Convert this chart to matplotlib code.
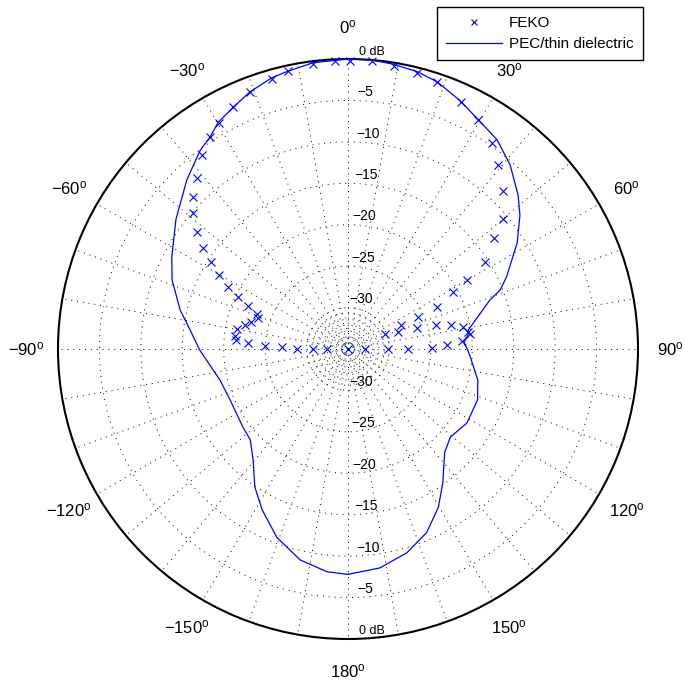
import numpy as np
import matplotlib
matplotlib.use("Agg")
import matplotlib.pyplot as plt
from matplotlib.transforms import offset_copy

plt.rcParams['font.family'] = ['Liberation Sans', 'DejaVu Sans']
plt.rcParams['mathtext.fontset'] = 'custom'
plt.rcParams['mathtext.rm'] = 'Liberation Sans'
plt.rcParams['mathtext.it'] = 'Liberation Sans:italic'

# pattern data, angle in degrees (clockwise from top), level in dB
pec_theta = [-180, -174.6, -167.2, -159.3, -151.9, -146, -139.4, -132.9, -126.6,
             -113.4, -103.6, -90.4, -83.1, -76.9, -68.6, -62.4, -53.0, -43.6,
             -36.6, -33.1, -29.9, -25.4, -20.9, -15.7, -12.2, -7.0, 0, 4.7, 9,
             14, 18.4, 24.2, 29.2, 35.5, 41.4, 47.8, 52.1, 57.9, 65.6, 68.8,
             71.0, 76.5, 81.0, 83.3, 87.0, 90, 93.8, 103.4, 111.4, 121.9, 130.8,
             137, 144.7, 150.3, 156.8, 163.9, 171.7, 180]
pec_db = [-7.8, -8.0, -8.9, -10.7, -13.0, -14.9, -17.4, -18.9, -19.2,
          -19.5, -19.1, -17.1, -15.8, -14.2, -12.2, -11.0, -9.0, -6.8,
          -5.1, -4.5, -3.5, -2.7, -1.8, -1.0, -0.7, -0.2, 0, 0, -0.2,
          -0.5, -1.0, -2.1, -3.1, -4.0, -5.4, -7.3, -8.7, -10.9, -14.0, -15.3,
          -16.9, -19.0, -20.3, -20.4, -21.0, -20.6, -20.2, -18.9, -18.2, -18.1, -18.7,
          -17.9, -15.2, -13.0, -10.9, -9.4, -8.3, -7.8]

feko_theta = [90, 90, 90, 89.3, 87.7, 86.0, 83.0, 81.9, 79.2, 76.9, 74.7, 73.1,
              71.2, 67.9, 65.6, 65.4, 64.7, 61.5, 59.9, 57.6, 52.8, 50.0, 44.5,
              39.2, 35.0, 29.6, 24.6, 18.4, 14.0, 9.2, 4.8, 0.4, -2.6, -7.0,
              -12.2, -15.7, -20.9, -25.4, -29.7, -33.1, -37.0, -41.4, -45.6,
              -48.7, -52.2, -55.1, -57.6, -60.2, -62.7, -64.7, -66.7, -69.0,
              -71.0, -74.4, -76.9, -79.8, -83.4, -85.4, -86.6, -87.9, -88.3,
              -90, -90, -90, 0]
feko_db = [-32.9, -30.2, -27.8, -24.9, -23.0, -21.2, -20.2, -20.4, -20.9, -22.2,
           -24.0, -26.3, -28.6, -30.2, -28.0, -25.7, -23.1, -20.6, -18.4, -15.4,
           -12.9, -10.6, -8.3, -6.3, -4.7, -3.2, -2.2, -1.0, -0.7, -0.4, -0.1,
           -0.2, -0.2, -0.4, -0.7, -1.1, -1.8, -2.7, -3.6, -4.5, -5.7, -7.5,
           -8.8, -10.1, -12.0, -13.7, -15.4, -17.1, -18.7, -20.3, -21.9, -23.2,
           -23.5, -22.8, -22.2, -21.4, -21.3, -21.4, -22.9, -25.0, -27.0, -28.8,
           -30.8, -32.5, -35]

ring_db = [-30, -25, -20, -15, -10, -5, 0]
ring_labels = ['\u221230', '\u221225', '\u221220', '\u221215', '\u221210', '\u22125', '0 dB']
angle_ticks = [0, 30, 60, 90, 120, 150, 180, -150, -120, -90, -60, -30]

DB_MIN = -35.0


def to_r(db):
    return np.clip(np.asarray(db, dtype=float) - DB_MIN, 0, None)


fig = plt.figure(figsize=(6.86, 6.89), dpi=100)
ax = fig.add_axes([58 / 686, 50 / 689, 580 / 686, 580 / 689], projection='polar')
ax.set_theta_zero_location('N')
ax.set_theta_direction(-1)
ax.set_ylim(0, -DB_MIN)
ax.grid(False)
ax.set_xticks([])
ax.set_yticks([])
ax.spines['polar'].set_linewidth(1.5)

dots = dict(color='k', lw=0.7, ls=(0, (1, 5)), zorder=1)
full = np.linspace(0, 2 * np.pi, 721)

# spokes every 10 degrees
for a in range(0, 360, 10):
    ax.plot([np.deg2rad(a)] * 2, [0, -DB_MIN], **dots)

# dB rings
for d in ring_db[:-1]:
    ax.plot(full, np.full_like(full, d - DB_MIN), **dots)
# small rings near the center
for rr in np.linspace(0, 5, 9)[1:-1]:
    ax.plot(full, np.full_like(full, rr), **dots)

# ring labels top and bottom
lab_tr = offset_copy(ax.transData, fig=fig, x=0, y=1, units='points')
for d, s in zip(ring_db, ring_labels):
    for th in (2.2, 177.8):
        ax.text(np.deg2rad(th), d - DB_MIN, s, transform=lab_tr, ha='left',
                va='bottom', fontsize=10 if d < 0 else 9)

# angle labels
for a in angle_ticks:
    txt = r'$%s%d^{\mathrm{o}}$' % ('-' if a < 0 else '', abs(a))
    ax.text(np.deg2rad(a), -DB_MIN * 1.11, txt, ha='center', va='center',
            fontsize=12)

ax.plot(np.deg2rad(feko_theta), to_r(feko_db), 'x', color='b', ms=5.5, mew=0.8,
        label='FEKO', clip_on=False, zorder=3)
ax.plot(np.deg2rad(pec_theta), to_r(pec_db), '-', color='b', lw=0.9,
        label='PEC/thin dielectric', zorder=3)

leg = fig.legend(loc='upper right', bbox_to_anchor=(643 / 686, 1 - 7 / 689),
                 fontsize=11, fancybox=False, framealpha=1, edgecolor='k',
                 handlelength=3.7, borderpad=0.6, labelspacing=0.45,
                 handletextpad=0.45, borderaxespad=0, markerscale=0.8)
leg.get_frame().set_linewidth(1.0)

fig.savefig('out.png', dpi=100)
